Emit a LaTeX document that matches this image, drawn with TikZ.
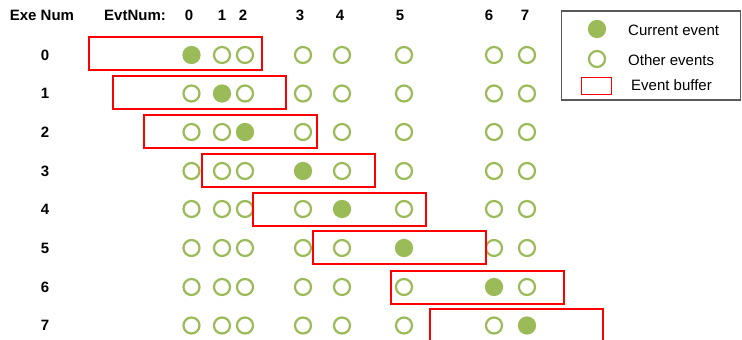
\documentclass[tikz,border=0pt]{standalone}
\usepackage{fontspec}
\setmainfont{Liberation Sans}
\definecolor{evgreen}{HTML}{9BBB59}
\definecolor{bufred}{HTML}{FF0000}
\definecolor{legframe}{HTML}{595959}
\begin{document}
\begin{tikzpicture}[x=1pt,y=-1pt,
  lbl/.style={font=\fontsize{15}{17}\selectfont\bfseries, inner sep=0pt, anchor=center},
  legtxt/.style={font=\fontsize{15}{17}\selectfont, inner sep=0pt, anchor=west},
  other/.style={circle, draw=evgreen, line width=2.2pt, minimum size=16pt, inner sep=0pt},
  current/.style={circle, fill=evgreen, draw=evgreen, line width=2.2pt, minimum size=16pt, inner sep=0pt},
  buffer/.style={draw=bufred, line width=2pt, minimum width=173pt, minimum height=33pt, inner sep=0pt},
  legbox/.style={draw=legframe, line width=1.6pt, inner sep=0pt}]
\useasboundingbox (0,0) rectangle (742,340);
% headers
\node[lbl] (hexe) at (42,15) {Exe Num};
\node[lbl] (hevt) at (135,15) {EvtNum:};
\foreach \c/\hx in {0/189,1/222,2/243,3/300,4/340,5/400,6/489,7/525}
  \node[lbl] (h\c) at (\hx,15) {\c};
% rows
\foreach \r/\ry in {0/55,1/93.5,2/132,3/171,4/209,5/248,6/287,7/325.5}{
  \node[lbl] (r\r) at (45,\ry) {\r};
  \foreach \c/\cx in {0/191.5,1/222,2/245,3/303,4/342,5/404,6/494,7/527}{
    \ifnum\c=\r
      \node[current] (e\r-\c) at (\cx,\ry) {};
    \else
      \node[other] (e\r-\c) at (\cx,\ry) {};
    \fi
  }
}
% buffers
\node[buffer] (b0) at (175,53.5) {};
\node[buffer] (b1) at (199.5,92.5) {};
\node[buffer] (b2) at (230.5,131.5) {};
\node[buffer] (b3) at (288.5,170) {};
\node[buffer] (b4) at (339.5,209) {};
\node[buffer] (b5) at (399,247.5) {};
\node[buffer] (b6) at (477,287) {};
\node[buffer] (b7) at (516.5,325.5) {};
% legend
\node[legbox, minimum width=179pt, minimum height=89pt] (leg) at (651,55.5) {};
\node[current] (lcur) at (597,29) {};
\node[other] (loth) at (597,59) {};
\node[draw=bufred, line width=1.7pt, minimum width=30pt, minimum height=17pt, inner sep=0pt] (lbuf) at (596.5,86) {};
\node[legtxt] (tcur) at (628,30) {Current event};
\node[legtxt] (toth) at (628,60) {Other events};
\node[legtxt] (tbuf) at (631,85) {Event buffer};
\end{tikzpicture}
\end{document}
